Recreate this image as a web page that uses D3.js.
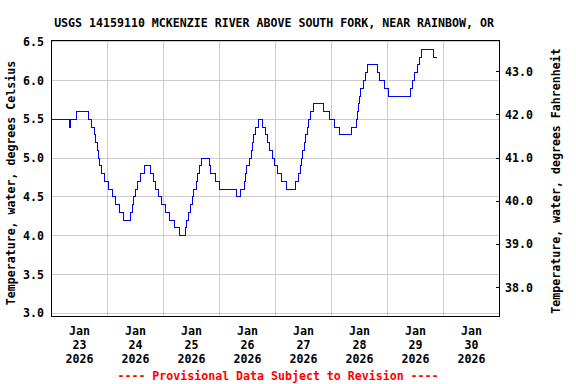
<!DOCTYPE html>
<html lang="en">
<head>
    <meta charset="UTF-8">
    <title>USGS 14159110 water temperature</title>
    <style>
        body { margin: 0; background: #fff; }
        text { font-family: "DejaVu Sans Mono", "Liberation Mono", monospace; font-weight: bold; font-size: 11.6px; }
    </style>
</head>
<body>
    <svg width="576" height="384"></svg>
    <script src="https://d3js.org/d3.v7.min.js"></script>
<script>

// times where the reading changes, and the reading from that time on (deg C)
const changeTimes = [
    "2026-01-23 00:00", "2026-01-23 07:45", "2026-01-23 08:15", "2026-01-23 10:45", "2026-01-23 16:00",
    "2026-01-23 17:00", "2026-01-23 18:30", "2026-01-23 19:00", "2026-01-23 19:30", "2026-01-23 20:15",
    "2026-01-23 20:45", "2026-01-23 21:15", "2026-01-23 22:30", "2026-01-24 00:15", "2026-01-24 02:00",
    "2026-01-24 03:15", "2026-01-24 05:00", "2026-01-24 07:00", "2026-01-24 10:00", "2026-01-24 10:45",
    "2026-01-24 11:15", "2026-01-24 12:00", "2026-01-24 13:00", "2026-01-24 14:15", "2026-01-24 16:00",
    "2026-01-24 18:30", "2026-01-24 19:45", "2026-01-24 20:30", "2026-01-24 22:00", "2026-01-24 23:00",
    "2026-01-25 01:00", "2026-01-25 02:30", "2026-01-25 04:30", "2026-01-25 07:00", "2026-01-25 09:15",
    "2026-01-25 10:00", "2026-01-25 10:30", "2026-01-25 11:30", "2026-01-25 12:15", "2026-01-25 13:00",
    "2026-01-25 14:00", "2026-01-25 14:30", "2026-01-25 15:15", "2026-01-25 16:15", "2026-01-25 19:45",
    "2026-01-25 20:15", "2026-01-25 22:15", "2026-01-26 00:00", "2026-01-26 07:15", "2026-01-26 09:00",
    "2026-01-26 10:30", "2026-01-26 11:00", "2026-01-26 11:45", "2026-01-26 12:45", "2026-01-26 13:30",
    "2026-01-26 14:00", "2026-01-26 14:30", "2026-01-26 15:15", "2026-01-26 16:45", "2026-01-26 18:30",
    "2026-01-26 19:45", "2026-01-26 20:30", "2026-01-26 21:15", "2026-01-26 22:30", "2026-01-26 23:45",
    "2026-01-27 01:00", "2026-01-27 02:45", "2026-01-27 04:45", "2026-01-27 08:30", "2026-01-27 10:00",
    "2026-01-27 10:45", "2026-01-27 11:15", "2026-01-27 11:45", "2026-01-27 12:15", "2026-01-27 13:00",
    "2026-01-27 13:30", "2026-01-27 14:00", "2026-01-27 15:00", "2026-01-27 16:15", "2026-01-27 20:30",
    "2026-01-27 23:15", "2026-01-28 01:15", "2026-01-28 03:15", "2026-01-28 08:45", "2026-01-28 10:30",
    "2026-01-28 11:00", "2026-01-28 11:30", "2026-01-28 12:00", "2026-01-28 12:30", "2026-01-28 13:45",
    "2026-01-28 14:30", "2026-01-28 15:30", "2026-01-28 19:30", "2026-01-28 20:45", "2026-01-28 22:45",
    "2026-01-29 00:15", "2026-01-29 10:00", "2026-01-29 10:45", "2026-01-29 11:45", "2026-01-29 12:45",
    "2026-01-29 13:45", "2026-01-29 14:30", "2026-01-29 19:30"
];
const tempC = [
    5.5, 5.4, 5.5, 5.6, 5.5,
    5.4, 5.3, 5.2, 5.1, 5.0,
    4.9, 4.8, 4.7, 4.6, 4.5,
    4.4, 4.3, 4.2, 4.3, 4.4,
    4.5, 4.6, 4.7, 4.8, 4.9,
    4.8, 4.7, 4.6, 4.5, 4.4,
    4.3, 4.2, 4.1, 4.0, 4.1,
    4.2, 4.3, 4.4, 4.5, 4.6,
    4.7, 4.8, 4.9, 5.0, 4.9,
    4.8, 4.7, 4.6, 4.5, 4.6,
    4.7, 4.8, 4.9, 5.0, 5.1,
    5.2, 5.3, 5.4, 5.5, 5.4,
    5.3, 5.2, 5.1, 5.0, 4.9,
    4.8, 4.7, 4.6, 4.7, 4.8,
    4.9, 5.0, 5.1, 5.2, 5.3,
    5.4, 5.5, 5.6, 5.7, 5.6,
    5.5, 5.4, 5.3, 5.4, 5.5,
    5.6, 5.7, 5.8, 5.9, 6.0,
    6.1, 6.2, 6.1, 6.0, 5.9,
    5.8, 5.9, 6.0, 6.1, 6.2,
    6.3, 6.4, 6.3
];
const lastTime = "2026-01-29 21:15";

const dayTicks = ["2026-01-23", "2026-01-24", "2026-01-25", "2026-01-26",
                  "2026-01-27", "2026-01-28", "2026-01-29", "2026-01-30"];
const celsiusTicks = [3.0, 3.5, 4.0, 4.5, 5.0, 5.5, 6.0, 6.5];
const fahrenheitTicks = [38, 39, 40, 41, 42, 43];

const titleText = "USGS 14159110 MCKENZIE RIVER ABOVE SOUTH FORK, NEAR RAINBOW, OR";
const leftTitle = "Temperature, water, degrees Celsius";
const rightTitle = "Temperature, water, degrees Fahrenheit";
const footText = "---- Provisional Data Subject to Revision ----";

const svg = d3.select("svg");
const plotLeft = 51.5, plotRight = 499.5, plotTop = 40.5, plotBottom = 316.5;

const parseTime = d3.timeParse("%Y-%m-%d %H:%M");
const parseDay = d3.timeParse("%Y-%m-%d");

const x = d3.scaleTime()
    .domain([parseDay("2026-01-23"), parseDay("2026-01-31")])
    .range([plotLeft, plotRight]);
const y = d3.scaleLinear()
    .domain([2.96, 6.515])
    .range([plotBottom, plotTop]);
const fToC = f => (f - 32) * 5 / 9;

// grid
const grid = svg.append("g").attr("shape-rendering", "crispEdges");
grid.selectAll(".hgrid")
    .data(celsiusTicks)
    .enter()
    .append("line")
    .attr("x1", plotLeft).attr("x2", plotRight)
    .attr("y1", d => y(d)).attr("y2", d => y(d))
    .attr("stroke", "#cccccc");
grid.selectAll(".vgrid")
    .data(dayTicks.slice(1))
    .enter()
    .append("line")
    .attr("x1", d => x(parseDay(d))).attr("x2", d => x(parseDay(d)))
    .attr("y1", plotTop).attr("y2", plotBottom)
    .attr("stroke", "#cccccc");

// data line
const points = changeTimes.map((t, i) => [parseTime(t), tempC[i]]);
points.push([parseTime(lastTime), tempC[tempC.length - 1]]);

svg.append("path")
    .datum(points)
    .attr("d", d3.line()
        .x(d => x(d[0]))
        .y(d => y(d[1]))
        .curve(d3.curveStepAfter))
    .attr("fill", "none")
    .attr("stroke", "#0000ff")
    .attr("stroke-width", 1)
    .attr("shape-rendering", "crispEdges");

// frame
svg.append("rect")
    .attr("x", plotLeft).attr("y", plotTop)
    .attr("width", plotRight - plotLeft).attr("height", plotBottom - plotTop)
    .attr("fill", "none")
    .attr("stroke", "#000")
    .attr("shape-rendering", "crispEdges");

// left labels
svg.selectAll(".ylab")
    .data(celsiusTicks)
    .enter()
    .append("text")
    .attr("x", 44)
    .attr("y", d => y(d))
    .attr("dy", "0.35em")
    .attr("text-anchor", "end")
    .text(d => d3.format(".1f")(d));

// right ticks + labels
svg.selectAll(".ftick")
    .data(fahrenheitTicks)
    .enter()
    .append("line")
    .attr("x1", plotRight - 4).attr("x2", plotRight)
    .attr("y1", d => y(fToC(d))).attr("y2", d => y(fToC(d)))
    .attr("stroke", "#000")
    .attr("shape-rendering", "crispEdges");
svg.selectAll(".flab")
    .data(fahrenheitTicks)
    .enter()
    .append("text")
    .attr("x", 505)
    .attr("y", d => y(fToC(d)))
    .attr("dy", "0.35em")
    .text(d => d3.format(".1f")(d));

// bottom labels
const noon = d => d3.timeHour.offset(parseDay(d), 12);
const xlab = svg.selectAll(".xlab")
    .data(dayTicks)
    .enter()
    .append("text")
    .attr("text-anchor", "middle")
    .attr("x", d => x(noon(d)));
xlab.append("tspan").attr("x", d => x(noon(d))).attr("y", 335).text(d => d3.timeFormat("%b")(parseDay(d)));
xlab.append("tspan").attr("x", d => x(noon(d))).attr("y", 349).text(d => d3.timeFormat("%d")(parseDay(d)));
xlab.append("tspan").attr("x", d => x(noon(d))).attr("y", 362.5).text(d => d3.timeFormat("%Y")(parseDay(d)));

// titles
svg.append("text")
    .attr("x", 274).attr("y", 27)
    .attr("text-anchor", "middle")
    .text(titleText);
svg.append("text")
    .attr("transform", "translate(15,183) rotate(-90)")
    .attr("text-anchor", "middle")
    .text(leftTitle);
svg.append("text")
    .attr("transform", "translate(560,181) rotate(-90)")
    .attr("text-anchor", "middle")
    .text(rightTitle);
svg.append("text")
    .attr("x", 278).attr("y", 380)
    .attr("text-anchor", "middle")
    .attr("fill", "#ff0000")
    .text(footText);

</script>
</body>
</html>
